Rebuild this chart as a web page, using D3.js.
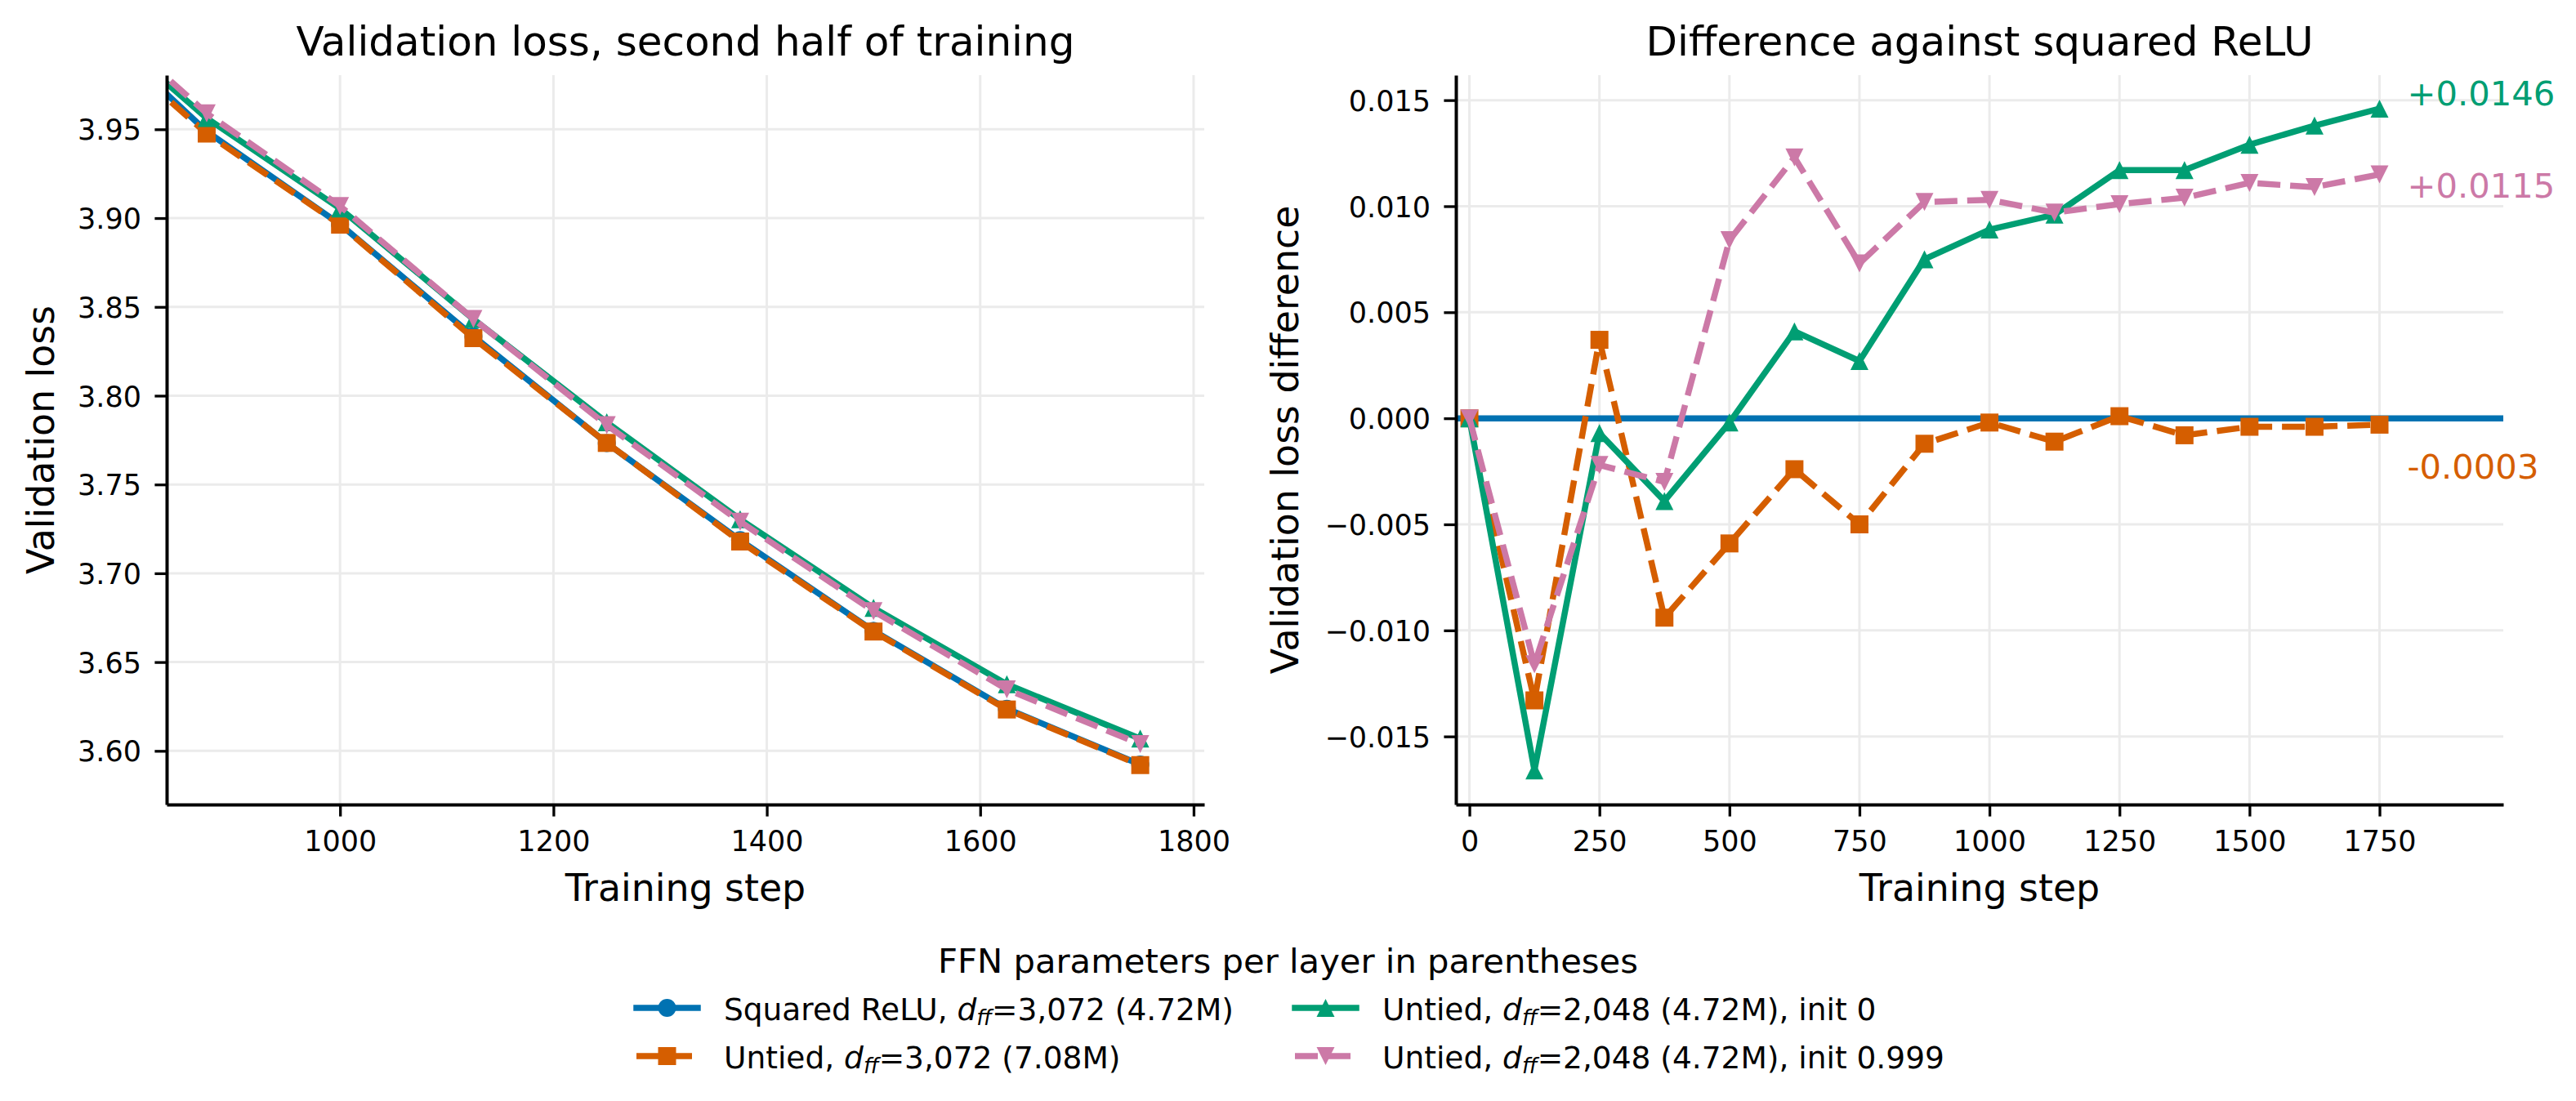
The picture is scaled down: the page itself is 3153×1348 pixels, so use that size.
<!DOCTYPE html>
<html>
<head>
<meta charset="utf-8">
<script src="https://d3js.org/d3.v7.min.js"></script>
<style>
  body { margin: 0; background: #fff; }
  text { font-family: "DejaVu Sans", sans-serif; fill: #000; }
</style>
</head>
<body>
<div id="chart"></div>
<script>

// ---- data ----
// left panel: validation loss, late steps (750 is clipped by the x limit)
var lossSteps = [750, 875, 1000, 1125, 1250, 1375, 1500, 1625, 1750];
var lossSquared = [4.0190, 3.9488, 3.8965, 3.8335, 3.7733, 3.7187, 3.6676, 3.6237, 3.5923];
var lossUntied3072 = [4.0140, 3.9476, 3.8963, 3.8324, 3.7734, 3.7179, 3.6672, 3.6233, 3.5920];
var lossInit0 = [4.0217, 3.9563, 3.9054, 3.8431, 3.7850, 3.7304, 3.6805, 3.6375, 3.6069];
var lossInit999 = [4.0263, 3.9590, 3.9068, 3.8432, 3.7834, 3.7291, 3.6787, 3.6346, 3.6038];

// right panel: difference against squared ReLU
var diffSteps = [0, 125, 250, 375, 500, 625, 750, 875, 1000, 1125, 1250, 1375, 1500, 1625, 1750];
var diffUntied3072 = [0, -0.0133, 0.0037, -0.0094, -0.0059, -0.0024, -0.0050, -0.0012, -0.0002, -0.0011, 0.0001, -0.0008, -0.0004, -0.0004, -0.0003];
var diffInit0 = [0, -0.0166, -0.0007, -0.0039, -0.0002, 0.0041, 0.0027, 0.0075, 0.0089, 0.0096, 0.0117, 0.0117, 0.0129, 0.0138, 0.0146];
var diffInit999 = [0, -0.0116, -0.0022, -0.0030, 0.0084, 0.0123, 0.0073, 0.0102, 0.0103, 0.0097, 0.0101, 0.0104, 0.0111, 0.0109, 0.0115];

// end labels on the right panel (text, baseline value)
var endLabels = ["+0.0146", "+0.0115", "-0.0003"];
var endLabelY = [0.01475, 0.01040, -0.00284];

var leftXTicks = [1000, 1200, 1400, 1600, 1800];
var leftYTicks = [3.60, 3.65, 3.70, 3.75, 3.80, 3.85, 3.90, 3.95];
var rightXTicks = [0, 250, 500, 750, 1000, 1250, 1500, 1750];
var rightYTicks = [-0.015, -0.010, -0.005, 0.000, 0.005, 0.010, 0.015];

var seriesNames = [
  {pre: "Squared ReLU, ", post: "=3,072 (4.72M)"},
  {pre: "Untied, ", post: "=3,072 (7.08M)"},
  {pre: "Untied, ", post: "=2,048 (4.72M), init 0"},
  {pre: "Untied, ", post: "=2,048 (4.72M), init 0.999"}
];
var colors = ["#0072B2", "#D55E00", "#009E73", "#CC79A7"];
var markers = ["circle", "square", "up", "down"];
var dashed = [false, true, false, true];

// ---- layout ----
var W = 3153, H = 1348;
var lw = 7.5, ms = 22;
var tickFont = 35;

var svg = d3.select("#chart").append("svg")
  .attr("width", W).attr("height", H)
  .attr("viewBox", "0 0 " + W + " " + H);

function markerPath(kind) {
  var r = ms / 2;
  if (kind == "circle") return d3.symbol(d3.symbolCircle, Math.PI * r * r)();
  if (kind == "square") return "M" + (-r) + "," + (-r) + "h" + ms + "v" + ms + "h" + (-ms) + "Z";
  if (kind == "up") return "M0," + (-r) + "L" + r + "," + r + "L" + (-r) + "," + r + "Z";
  return "M0," + r + "L" + r + "," + (-r) + "L" + (-r) + "," + (-r) + "Z";
}

function styleLine(sel, i) {
  sel.attr("fill", "none")
    .attr("stroke", colors[i])
    .attr("stroke-width", lw)
    .attr("stroke-linejoin", "round")
    .attr("stroke-linecap", dashed[i] ? "butt" : "square")
    .attr("stroke-dasharray", dashed[i] ? "28,12" : null);
}

function drawPanel(opt) {
  var x = d3.scaleLinear().domain(opt.xDomain).range(opt.xRange);
  var y = d3.scaleLinear().domain(opt.yDomain).range([985, 92]);
  var g = svg.append("g");

  // grid
  g.selectAll(".gx").data(opt.xTicks).enter().append("line")
    .attr("x1", function(d) { return x(d); }).attr("x2", function(d) { return x(d); })
    .attr("y1", y.range()[0]).attr("y2", y.range()[1])
    .attr("stroke", "#ebebeb").attr("stroke-width", 3);
  g.selectAll(".gy").data(opt.yTicks).enter().append("line")
    .attr("y1", function(d) { return y(d); }).attr("y2", function(d) { return y(d); })
    .attr("x1", opt.xRange[0]).attr("x2", opt.xRange[1])
    .attr("stroke", "#ebebeb").attr("stroke-width", 3);

  var clipId = "clip" + opt.id;
  svg.append("clipPath").attr("id", clipId).append("rect")
    .attr("x", opt.xRange[0]).attr("y", 92)
    .attr("width", opt.xRange[1] - opt.xRange[0]).attr("height", 985 - 92);
  var plot = g.append("g").attr("clip-path", "url(#" + clipId + ")");

  opt.series.forEach(function(s) {
    var i = s.idx;
    if (s.hline) {
      plot.append("line")
        .attr("x1", opt.xRange[0]).attr("x2", opt.xRange[1])
        .attr("y1", y(0)).attr("y2", y(0))
        .call(styleLine, i).attr("stroke-linecap", "butt");
      return;
    }
    var pts = s.values.map(function(v, k) { return [opt.steps[k], v]; });
    plot.append("path")
      .attr("d", d3.line().x(function(d) { return x(d[0]); }).y(function(d) { return y(d[1]); })(pts))
      .call(styleLine, i);
    plot.selectAll(null).data(pts).enter().append("path")
      .attr("d", markerPath(markers[i]))
      .attr("transform", function(d) { return "translate(" + x(d[0]) + "," + y(d[1]) + ")"; })
      .attr("fill", colors[i]);
  });

  // axes
  var ax = g.append("g").attr("transform", "translate(0,985)")
    .call(d3.axisBottom(x).tickValues(opt.xTicks).tickFormat(opt.xFormat)
      .tickSize(14.6).tickSizeOuter(0).tickPadding(17.5));
  var ay = g.append("g").attr("transform", "translate(" + opt.xRange[0] + ",0)")
    .call(d3.axisLeft(y).tickValues(opt.yTicks).tickFormat(opt.yFormat)
      .tickSize(14.6).tickSizeOuter(0).tickPadding(16.4));
  [ax, ay].forEach(function(a) {
    a.select(".domain").attr("stroke", "#000").attr("stroke-width", 4);
    a.selectAll(".tick line").attr("stroke", "#000").attr("stroke-width", 3.3);
    a.selectAll(".tick text").attr("font-size", tickFont).attr("font-family", "DejaVu Sans").attr("fill", "#000");
  });
  ay.selectAll(".tick text").attr("dy", "0.36em");

  // titles and labels
  var cx = (opt.xRange[0] + opt.xRange[1]) / 2;
  g.append("text").attr("x", cx).attr("y", 68).attr("text-anchor", "middle")
    .attr("font-size", 50).text(opt.title);
  g.append("text").attr("x", cx).attr("y", 1103).attr("text-anchor", "middle")
    .attr("font-size", 45.8).text("Training step");
  g.append("text")
    .attr("transform", "translate(" + opt.yLabelX + ",538.5) rotate(-90)")
    .attr("text-anchor", "middle").attr("font-size", 45.8).text(opt.yLabel);

  return {x: x, y: y, g: g};
}

drawPanel({
  id: "L", xDomain: [837.5, 1810], xRange: [204, 1474], yDomain: [3.5698, 3.9805],
  xTicks: leftXTicks, yTicks: leftYTicks, steps: lossSteps,
  xFormat: d3.format("d"), yFormat: d3.format(".2f"),
  title: "Validation loss, second half of training", yLabel: "Validation loss", yLabelX: 66,
  series: [
    {idx: 0, values: lossSquared},
    {idx: 1, values: lossUntied3072},
    {idx: 2, values: lossInit0},
    {idx: 3, values: lossInit999}
  ]
});

var right = drawPanel({
  id: "R", xDomain: [-26, 1988], xRange: [1782, 3064], yDomain: [-0.01821, 0.01618],
  xTicks: rightXTicks, yTicks: rightYTicks, steps: diffSteps,
  xFormat: d3.format("d"), yFormat: function(d) { return d3.format(".3f")(d).replace("-", "\u2212"); },
  title: "Difference against squared ReLU", yLabel: "Validation loss difference", yLabelX: 1589,
  series: [
    {idx: 0, hline: true},
    {idx: 1, values: diffUntied3072},
    {idx: 2, values: diffInit0},
    {idx: 3, values: diffInit999}
  ]
});

// end-of-line labels
var labelColors = [colors[2], colors[3], colors[1]];
endLabels.forEach(function(t, i) {
  right.g.append("text")
    .attr("x", right.x(diffSteps[diffSteps.length - 1]) + 34)
    .attr("y", right.y(endLabelY[i]))
    .attr("font-size", 41.7)
    .style("fill", labelColors[i])
    .text(t);
});

// ---- legend ----
var leg = svg.append("g");
leg.append("text").attr("x", W / 2).attr("y", 1191).attr("text-anchor", "middle")
  .attr("font-size", 41.7).text("FFN parameters per layer in parentheses");

var colX = [779, 1585];
var rowY = [1234, 1293];
seriesNames.forEach(function(s, i) {
  var col = i < 2 ? 0 : 1, row = i % 2;
  var hx = colX[col], hy = rowY[row];
  leg.append("line").attr("x1", hx).attr("x2", hx + 75).attr("y1", hy).attr("y2", hy)
    .call(styleLine, i);
  leg.append("path").attr("d", markerPath(markers[i]))
    .attr("transform", "translate(" + (hx + 37.5) + "," + hy + ")")
    .attr("fill", colors[i]);
  var t = leg.append("text").attr("x", hx + 107).attr("y", hy + 15).attr("font-size", 37.5);
  t.append("tspan").text(s.pre);
  t.append("tspan").attr("font-style", "italic").text("d");
  t.append("tspan").attr("font-style", "italic").attr("font-size", 26).attr("dy", 6).text("ff");
  t.append("tspan").attr("dy", -6).text(s.post);
});

</script>
</body>
</html>
